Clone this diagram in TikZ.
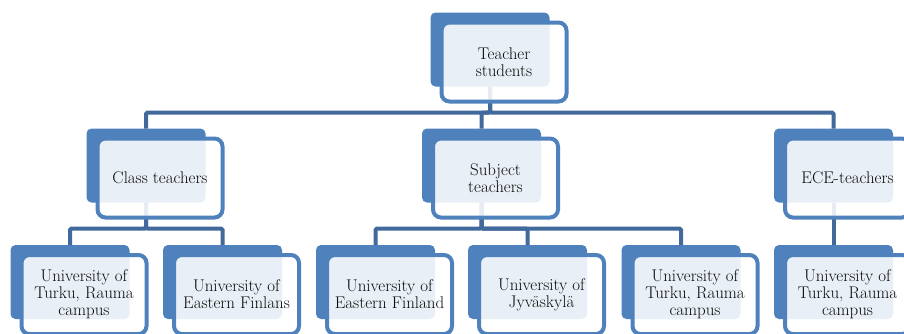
\documentclass[tikz,border=0pt]{standalone}
\usepackage{anyfontsize}
\usepackage{xcolor}
\usepackage{tikz}
\usetikzlibrary{positioning}
\definecolor{boxblue}{RGB}{79, 129, 189}
\definecolor{linkblue}{RGB}{65, 105, 155}
\definecolor{darktext}{RGB}{10, 10, 10}

\begin{document}
\begin{tikzpicture}[x=1pt, y=-1pt,
    backbox/.style={fill=boxblue, rounded corners=5pt, minimum width=119pt,
                    minimum height=74pt, inner sep=0pt, outer sep=0pt},
    frontbox/.style={draw=boxblue, line width=4pt, fill=white, fill opacity=0.88,
                     text opacity=1, rounded corners=8pt, minimum width=125pt,
                     minimum height=79pt, align=center, text=darktext,
                     font=\fontsize{16.9}{17}\selectfont},
    link/.style={draw=linkblue, line width=4pt, rounded corners=1.5pt}]
    \useasboundingbox (0,0) rectangle (904,333);
    % back shapes
    \node[backbox] (top-b) at (490,49.5) {};
    \node[backbox] (cls-b) at (146,165.5) {};
    \node[backbox] (sub-b) at (481.5,165.5) {};
    \node[backbox] (ece-b) at (833.5,165.5) {};
    \node[backbox] (tur1-b) at (70,282) {};
    \node[backbox] (uef1-b) at (222.5,282) {};
    \node[backbox] (uef2-b) at (375.5,282) {};
    \node[backbox] (jyu-b) at (527.5,282) {};
    \node[backbox] (tur2-b) at (681,282) {};
    \node[backbox] (tur3-b) at (833.5,282) {};
    % connectors
    \draw[link] (top-b.south) -- ++(0,26) -| (cls-b.north);
    \draw[link] (top-b.south) -- ++(0,26) -| (sub-b.north);
    \draw[link] (top-b.south) -- ++(0,26) -| (ece-b.north);
    \draw[link] (cls-b.south) -- ++(0,26) -| (tur1-b.north);
    \draw[link] (cls-b.south) -- ++(0,26) -| (uef1-b.north);
    \draw[link] (sub-b.south) -- ++(0,26) -| (uef2-b.north);
    \draw[link] (sub-b.south) -- ++(0,26) -| (jyu-b.north);
    \draw[link] (sub-b.south) -- ++(0,26) -| (tur2-b.north);
    \draw[link] (ece-b.south) -- (tur3-b.north);
    % front shapes
    \node[frontbox] (top) at ([shift={(14,12.5)}]top-b.center) {Teacher\\students};
    \node[frontbox] (cls) at ([shift={(14,12.5)}]cls-b.center) {Class teachers};
    \node[frontbox] (sub) at ([shift={(14,12.5)}]sub-b.center) {Subject\\teachers};
    \node[frontbox] (ece) at ([shift={(14,12.5)}]ece-b.center) {ECE-teachers};
    \node[frontbox] (tur1) at ([shift={(14,12.5)}]tur1-b.center) {University of\\Turku, Rauma\\campus};
    \node[frontbox] (uef1) at ([shift={(14,12.5)}]uef1-b.center) {University of\\Eastern Finlans};
    \node[frontbox] (uef2) at ([shift={(14,12.5)}]uef2-b.center) {University of\\Eastern Finland};
    \node[frontbox] (jyu) at ([shift={(14,12.5)}]jyu-b.center) {University of\\Jyväskylä};
    \node[frontbox] (tur2) at ([shift={(14,12.5)}]tur2-b.center) {University of\\Turku, Rauma\\campus};
    \node[frontbox] (tur3) at ([shift={(14,12.5)}]tur3-b.center) {University of\\Turku, Rauma\\campus};
\end{tikzpicture}
\end{document}
